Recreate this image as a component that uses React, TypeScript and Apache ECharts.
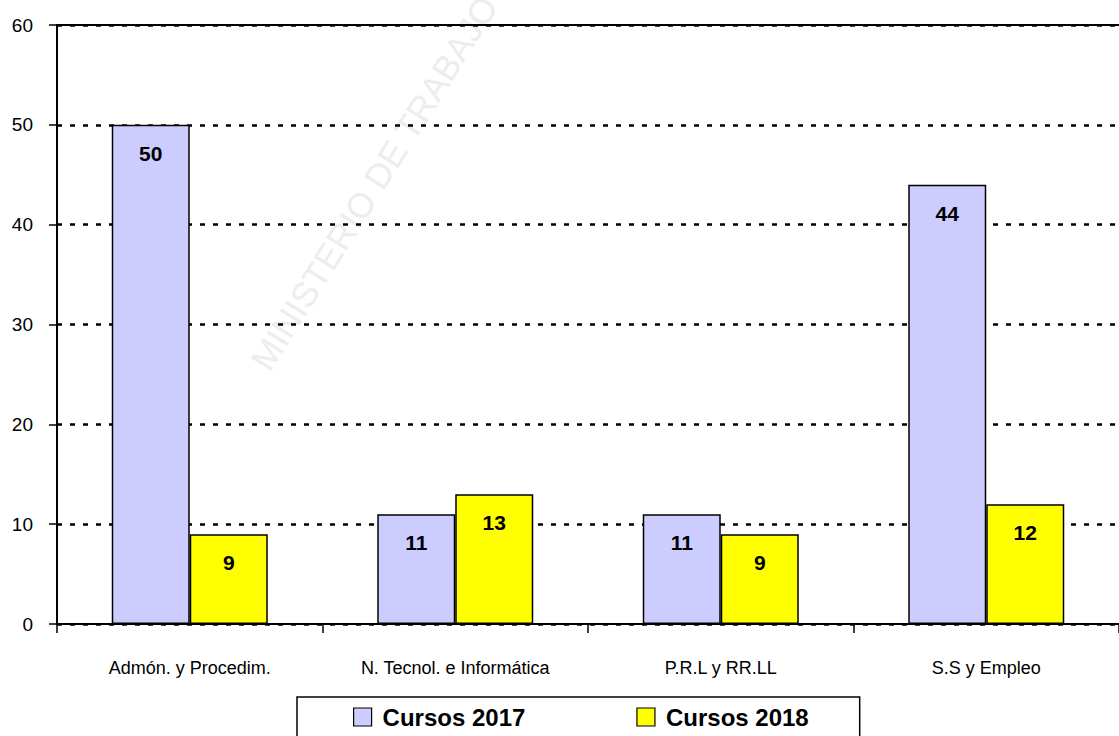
import React, { useEffect, useRef } from "react";
import * as echarts from "echarts";

const categories = ["Admón. y Procedim.", "N. Tecnol. e Informática", "P.R.L y RR.LL", "S.S y Empleo"];
const cursos2017 = [50, 11, 11, 44];
const cursos2018 = [9, 13, 9, 12];
const seriesNames = ["Cursos 2017", "Cursos 2018"];
const watermark = "MINISTERIO DE TRABAJO";

export default function App() {
  const ref = useRef<HTMLDivElement>(null);
  useEffect(() => {
    if (!ref.current) return;
    const chart = echarts.init(ref.current, null, { renderer: "svg" });
    const font = "'Liberation Sans', Arial, sans-serif";
    const barLabel = {
      show: true,
      position: "insideTop",
      distance: 18,
      fontFamily: font,
      fontWeight: "bold",
      fontSize: 21,
      color: "#000",
    };
    chart.setOption({
      animation: false,
      backgroundColor: "#fff",
      grid: { left: 57, right: 0, top: 25, bottom: 112, containLabel: false },
      graphic: [
        {
          type: "text",
          x: 274,
          y: 376,
          rotation: (58 * Math.PI) / 180,
          z: -10,
          silent: true,
          style: {
            text: watermark,
            fill: "#ededed",
            verticalAlign: "bottom",
            font: "35px 'Liberation Sans', Arial, sans-serif",
          },
        },
      ],
      legend: {
        left: 297,
        top: 697,
        padding: [8, 51, 12, 56],
        itemGap: 111,
        itemWidth: 18,
        itemHeight: 18,
        borderColor: "#000",
        borderWidth: 1.5,
        borderRadius: 0,
        icon: "rect",
        itemStyle: { borderColor: "#000", borderWidth: 1.2 },
        textStyle: { fontFamily: font, fontWeight: "bold", fontSize: 24, color: "#000", padding: [0, 0, 0, 6] },
        data: seriesNames,
      },
      xAxis: [
        {
          type: "category",
          data: categories,
          axisLine: { lineStyle: { color: "#000", width: 2 } },
          axisTick: { show: true, length: 9, lineStyle: { color: "#000", width: 1.5 } },
          axisLabel: { interval: 0, fontFamily: font, fontSize: 18, color: "#000", margin: 35 },
          splitLine: { show: false },
        },
        {
          type: "category",
          position: "top",
          data: categories,
          axisLine: { show: true, lineStyle: { color: "#000", width: 2 } },
          axisTick: { show: false },
          axisLabel: { show: false },
        },
      ],
      yAxis: {
        type: "value",
        min: 0,
        max: 60,
        interval: 10,
        axisLine: { show: true, lineStyle: { color: "#000", width: 2 } },
        axisTick: { show: true, length: 8, lineStyle: { color: "#000", width: 1.5 } },
        axisLabel: { fontFamily: font, fontSize: 19, color: "#000", margin: 24 },
        splitLine: { show: true, lineStyle: { color: "#000", width: 2.5, type: [5, 8] } },
      },
      series: [
        {
          name: seriesNames[0],
          type: "bar",
          data: cursos2017,
          barWidth: 78,
          barGap: "0%",
          itemStyle: { color: "#CCCCFF", borderColor: "#000", borderWidth: 1.5 },
          label: barLabel,
        },
        {
          name: seriesNames[1],
          type: "bar",
          data: cursos2018,
          barWidth: 78,
          barGap: "0%",
          itemStyle: { color: "#FFFF00", borderColor: "#000", borderWidth: 1.5 },
          label: barLabel,
        },
      ],
    });
    return () => chart.dispose();
  }, []);
  return <div ref={ref} style={{ width: 1119, height: 736, position: "absolute", left: 0, top: 0 }} />;
}
